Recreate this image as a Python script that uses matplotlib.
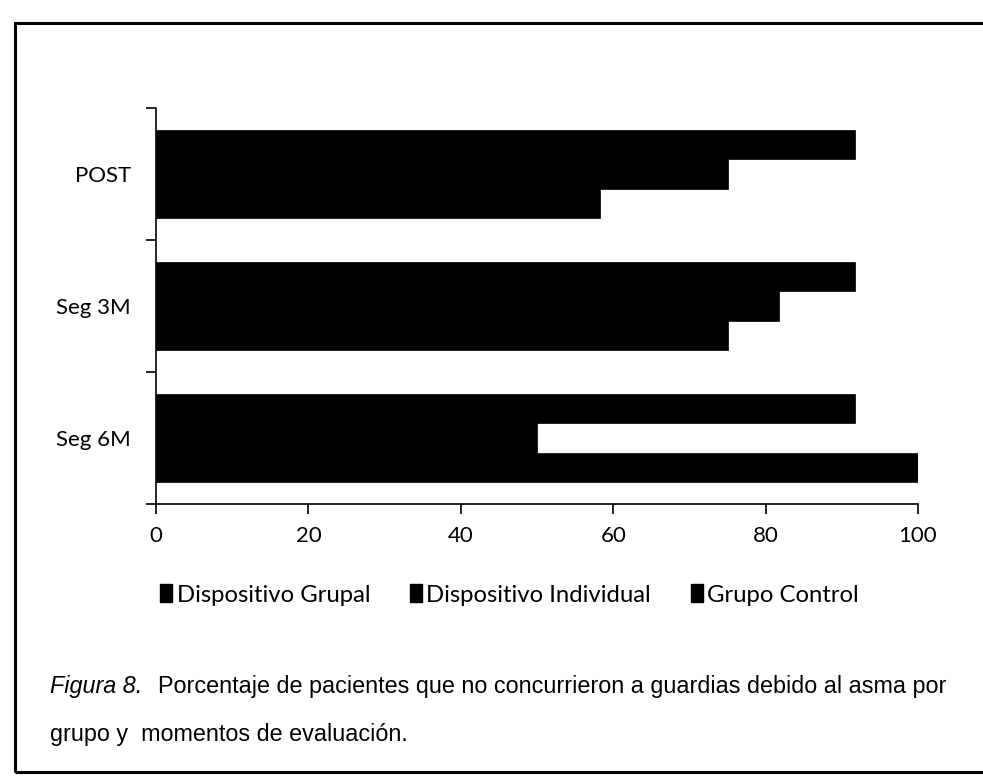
import numpy as np
import matplotlib
matplotlib.use('Agg')
from matplotlib import pyplot as plt
from matplotlib.patches import Rectangle, Patch

categories = ['POST', 'Seg 3M', 'Seg 6M']
series = ['Dispositivo Grupal', 'Dispositivo Individual', 'Grupo Control']
grupal = [91.7, 91.7, 91.7]
individual = [75.0, 81.8, 50.0]
control = [58.3, 75.0, 100.0]
xticks = [0, 20, 40, 60, 80, 100]

plt.rcParams['font.family'] = ['Lato', 'DejaVu Sans']

W, H = 983, 782
fig = plt.figure(figsize=(W / 100, H / 100), dpi=100)
ax = fig.add_axes([156 / W, 1 - 504 / H, (918 - 156) / W, (504 - 108) / H])

# excel style: gap width 150%
bar_h = 1 / 4.5
ypos = np.arange(len(categories))
for i, vals in enumerate([grupal, individual, control]):
    ax.barh(ypos - bar_h + i * bar_h, vals, height=bar_h, color='black',
            edgecolor='black', linewidth=0.5)

ax.set_xlim(0, 100)
ax.set_ylim(len(categories) - 0.5, -0.5)
ax.set_xticks(xticks)
ax.set_xticklabels([str(t) for t in xticks], fontsize=16)
ax.set_yticks(ypos)
ax.set_yticklabels(categories, fontsize=16)
ax.set_yticks(np.arange(len(categories) + 1) - 0.5, minor=True)
ax.tick_params(axis='y', which='major', length=0, pad=18)
ax.tick_params(axis='y', which='minor', length=7, direction='out', width=1.2)
ax.tick_params(axis='x', length=7, direction='out', width=1.2, pad=9)
for s in ['top', 'right']:
    ax.spines[s].set_visible(False)
for s in ['left', 'bottom']:
    ax.spines[s].set_linewidth(1.2)

handles = [Patch(facecolor='black', edgecolor='black') for _ in series]
fig.legend(handles, series, loc='center left', bbox_to_anchor=(160 / W, 1 - 595 / H),
           ncol=3, frameon=False, fontsize=17.2, handlelength=0.5, handleheight=0.75,
           handletextpad=0.2, columnspacing=1.65, borderaxespad=0, borderpad=0)

cap = dict(fontsize=16.8, family='Liberation Sans', va='center')
fig.text(50 / W, 1 - 687 / H, 'Figura 8.', style='italic', **cap)
fig.text(158 / W, 1 - 687 / H,
         'Porcentaje de pacientes que no concurrieron a guardias debido al asma por', **cap)
fig.text(50 / W, 1 - 735 / H, 'grupo y  momentos de evaluación.', **cap)

fig.add_artist(Rectangle((15 / W, 1 - 772 / H), 1.0, (772 - 23) / H,
                         transform=fig.transFigure, fill=False, edgecolor='black',
                         linewidth=2.2, clip_on=False))

fig.savefig('out.png', dpi=100, facecolor='white')
